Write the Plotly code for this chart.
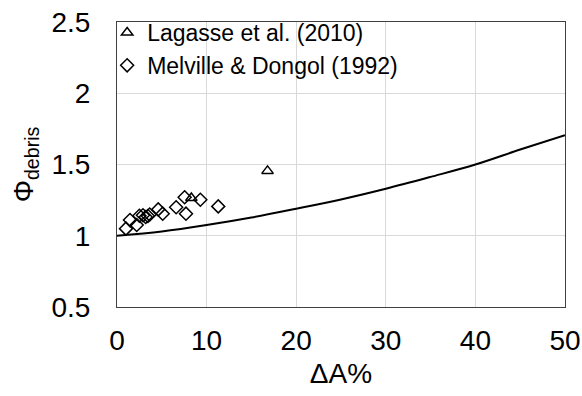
import plotly.graph_objects as go

# Data
curve_x = [0, 5, 10, 15, 20, 25, 30, 35, 40, 45, 50]
curve_y = [1.0, 1.03, 1.075, 1.128, 1.19, 1.255, 1.33, 1.413, 1.5, 1.605, 1.706]

lagasse_x = [8.3, 16.8]
lagasse_y = [1.265, 1.455]

melville_x = [1.0, 1.45, 2.2, 2.5, 2.9, 3.2, 3.45, 3.65, 4.6, 5.1, 6.6, 7.55, 7.7, 9.3, 11.3]
melville_y = [1.05, 1.11, 1.075, 1.14, 1.144, 1.132, 1.139, 1.149, 1.185, 1.155, 1.2, 1.27, 1.155, 1.253, 1.206]

x_ticks = [0, 10, 20, 30, 40, 50]
y_ticks = [0.5, 1, 1.5, 2, 2.5]
y_tick_labels = ["0.5", "1", "1.5", "2", "2.5"]

FONT = "Liberation Sans, Arial, sans-serif"
GRID = "#d9d9d9"

fig = go.Figure()

fig.add_trace(go.Scatter(
    x=curve_x, y=curve_y, mode="lines", line=dict(color="black", width=2, shape="spline"),
    showlegend=False, hoverinfo="skip",
))
fig.add_trace(go.Scatter(
    x=lagasse_x, y=lagasse_y, mode="markers", name="Lagasse et al. (2010)",
    marker=dict(symbol="triangle-up-open", size=10, color="black", line=dict(width=1.5, color="black")),
))
fig.add_trace(go.Scatter(
    x=melville_x, y=melville_y, mode="markers", name="Melville & Dongol (1992)",
    marker=dict(symbol="diamond-open", size=10, color="black", line=dict(width=1.5, color="black")),
))

fig.update_layout(
    width=582, height=396,
    margin=dict(l=117, r=17, t=21, b=89),
    paper_bgcolor="white", plot_bgcolor="white",
    font=dict(family=FONT, size=28, color="black"),
    legend=dict(
        x=-0.022, y=1.035, xanchor="left", yanchor="top",
        bgcolor="rgba(0,0,0,0)", borderwidth=0,
        font=dict(family=FONT, size=23, color="black"),
        tracegroupgap=0, itemwidth=30,
    ),
    xaxis=dict(
        range=[0, 50], tickmode="array", tickvals=x_ticks,
        ticks="outside", ticklen=8, tickcolor="rgba(0,0,0,0)",
        showgrid=True, gridcolor=GRID, gridwidth=1,
        showline=True, linecolor="#404040", linewidth=1, mirror=True, zeroline=False,
        automargin=False,
        title=dict(text="ΔA%", font=dict(family=FONT, size=28), standoff=8),
        tickfont=dict(family=FONT, size=28),
    ),
    yaxis=dict(
        range=[0.5, 2.5], tickmode="array", tickvals=y_ticks, ticktext=y_tick_labels,
        ticks="outside", ticklen=20, tickcolor="rgba(0,0,0,0)",
        showgrid=True, gridcolor=GRID, gridwidth=1,
        showline=True, linecolor="#404040", linewidth=1, mirror=True, zeroline=False,
        automargin=False,
        title=dict(text="Φ<sub>debris</sub>", font=dict(family=FONT, size=28), standoff=9),
        tickfont=dict(family=FONT, size=28),
    ),
)

fig.write_html("out.html")
